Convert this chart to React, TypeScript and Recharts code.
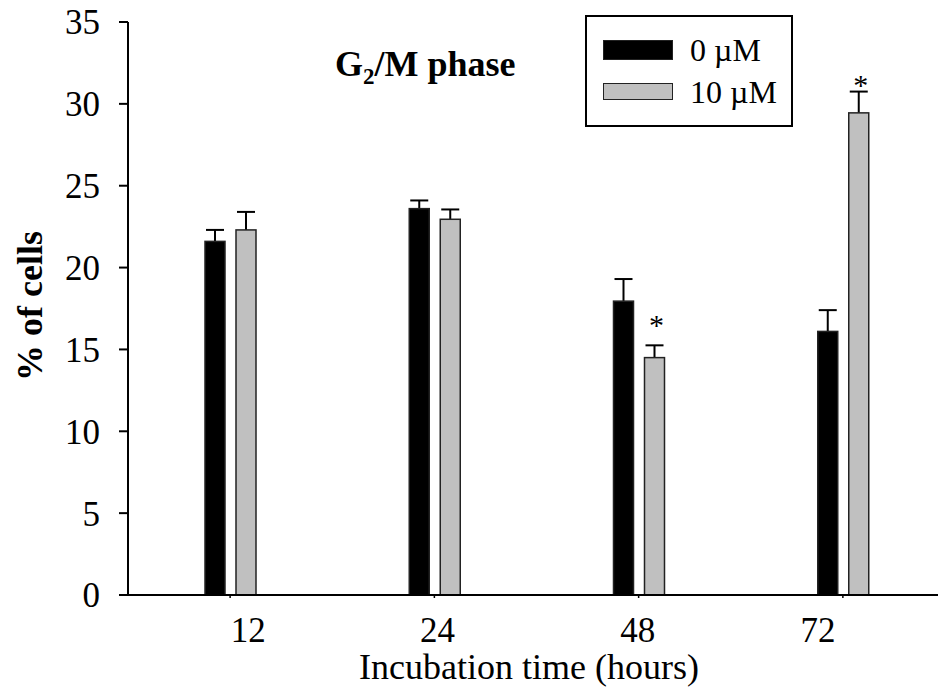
import React from "react";
import { BarChart, Bar, XAxis, YAxis, LabelList, Legend, Customized } from "recharts";

const times = ["12", "24", "48", "72"];
const ctrlValues = [21.6, 23.6, 17.95, 16.1];
const ctrlErrors = [0.7, 0.5, 1.35, 1.3];
const drugValues = [22.3, 22.95, 14.5, 29.45];
const drugErrors = [1.1, 0.6, 0.75, 1.3];
const drugSignificant = [false, false, true, true];
const yTicks = [0, 5, 10, 15, 20, 25, 30, 35];

const data = times.map((t, i) => ({
  time: t,
  ctrl: ctrlValues[i],
  drug: drugValues[i],
}));

const SERIF = "'Liberation Serif', 'Times New Roman', serif";

// hand-placed offsets in the original figure
const tickShift = [18, 3, -1, -25];
const starGap = [0, 0, 10, -3];

const XTick = (props: any) => {
  const { x, y, payload, index } = props;
  return (
    <text
      x={x + (tickShift[index] || 0)}
      y={y}
      dy="0.71em"
      textAnchor="middle"
      fontFamily={SERIF}
      fontSize={35}
      fill="#000"
    >
      {payload.value}
    </text>
  );
};

// bar with a one-sided (upper) error whisker, scaled from the bar's own height
const barWithError = (key: "ctrl" | "drug", errors: number[]) => (props: any) => {
  const { x, y, width, height, fill, payload, index } = props;
  const v = payload[key];
  const perUnit = v ? height / v : 0;
  const cx = x + width / 2;
  const top = y - errors[index] * perUnit;
  return (
    <g>
      <line x1={cx} x2={cx} y1={y} y2={top} stroke="#000" strokeWidth={2} />
      <line x1={cx - 9} x2={cx + 9} y1={top} y2={top} stroke="#000" strokeWidth={2} />
      <rect x={x} y={y} width={width} height={height} fill={fill} stroke="#222" strokeWidth={1.5} />
    </g>
  );
};

const Star = (props: any) => {
  const { x, y, width, height, value, index } = props;
  if (!drugSignificant[index]) return null;
  const perUnit = height / value;
  const capY = y - drugErrors[index] * perUnit;
  return (
    <text
      x={x + width / 2 + 2}
      y={capY - starGap[index]}
      textAnchor="middle"
      fontFamily={SERIF}
      fontSize={30}
      fill="#000"
    >
      *
    </text>
  );
};

const LegendBox = (props: any) => {
  const items = props.payload || [];
  const swatchTops = [23, 66];
  const swatchHeights = [20, 17];
  const textCenters = [33, 75];
  return (
    <div
      style={{
        width: 208,
        height: 112,
        border: "2px solid #000",
        boxSizing: "border-box",
        position: "relative",
        background: "#fff",
        fontFamily: SERIF,
        fontSize: 32,
        color: "#000",
      }}
    >
      {items.map((it: any, i: number) => (
        <React.Fragment key={it.value}>
          <div
            style={{
              position: "absolute",
              left: 16,
              top: swatchTops[i],
              width: 70,
              height: swatchHeights[i],
              background: it.color,
              border: "1.5px solid #222",
              boxSizing: "border-box",
            }}
          />
          <div
            style={{
              position: "absolute",
              left: 103,
              top: textCenters[i] - 16,
              height: 32,
              lineHeight: "32px",
              whiteSpace: "nowrap",
            }}
          >
            {it.value}
          </div>
        </React.Fragment>
      ))}
    </div>
  );
};

const Title = () => (
  <text x={335} y={76} fontFamily={SERIF} fontWeight="bold" fontSize={36} fill="#000">
    G
    <tspan fontSize={23} dy={8}>
      2
    </tspan>
    <tspan dy={-8}>/M phase</tspan>
  </text>
);

export default function App() {
  return (
    <div
      style={{
        position: "absolute",
        left: 0,
        top: 0,
        width: 938,
        height: 689,
        overflow: "hidden",
        background: "#fff",
      }}
    >
      <BarChart
        width={960}
        height={689}
        data={data}
        margin={{ top: 22, right: 15, bottom: 0, left: 0 }}
        barSize={20}
        barGap={11}
      >
        <XAxis
          dataKey="time"
          height={94}
          interval={0}
          tickSize={3}
          tickMargin={19}
          tick={<XTick />}
          axisLine={{ stroke: "#000", strokeWidth: 2 }}
          tickLine={{ stroke: "#000", strokeWidth: 1.5 }}
          label={{
            value: "Incubation time (hours)",
            content: () => (
              <text
                x={529}
                y={679}
                textAnchor="middle"
                fontFamily={SERIF}
                fontSize={36}
                fill="#000"
              >
                Incubation time (hours)
              </text>
            ),
          }}
        />
        <YAxis
          width={128}
          domain={[0, 35]}
          ticks={yTicks}
          interval={0}
          tickSize={9}
          tickMargin={19}
          tick={{ fill: "#000", fontSize: 35, fontFamily: SERIF }}
          axisLine={{ stroke: "#000", strokeWidth: 2 }}
          tickLine={{ stroke: "#000", strokeWidth: 2 }}
          label={{
            value: "% of cells",
            content: () => (
              <text
                x={42}
                y={306}
                transform="rotate(-90 42 306)"
                textAnchor="middle"
                fontFamily={SERIF}
                fontWeight="bold"
                fontSize={36}
                fill="#000"
              >
                % of cells
              </text>
            ),
          }}
        />
        <Legend
          verticalAlign="middle"
          align="center"
          wrapperStyle={{ left: 585, top: 15, width: 208 }}
          content={<LegendBox />}
        />
        <Bar
          dataKey="ctrl"
          name="0 µM"
          fill="#000000"
          stroke="#222"
          isAnimationActive={false}
          shape={barWithError("ctrl", ctrlErrors)}
        />
        <Bar
          dataKey="drug"
          name="10 µM"
          fill="#c0c0c0"
          stroke="#222"
          isAnimationActive={false}
          shape={barWithError("drug", drugErrors)}
        >
          <LabelList dataKey="drug" content={<Star />} />
        </Bar>
        <Customized component={Title} />
      </BarChart>
    </div>
  );
}
